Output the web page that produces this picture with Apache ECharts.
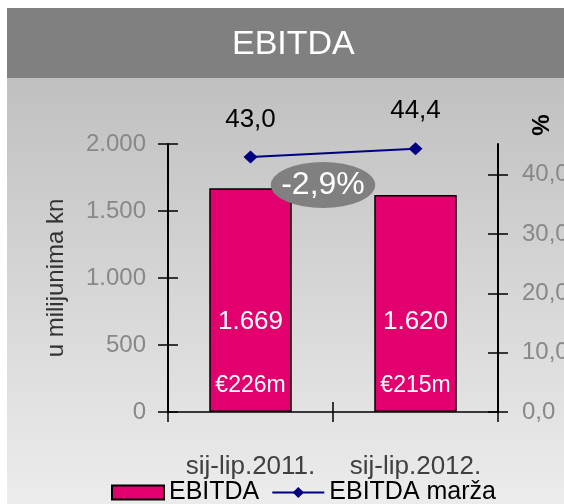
<!DOCTYPE html>
<html>
<head>
<meta charset="utf-8">
<script src="https://cdn.jsdelivr.net/npm/echarts@6/dist/echarts.min.js"></script>
<style>
html, body { margin: 0; padding: 0; background: #fff; }
#chart { width: 564px; height: 504px; }
</style>
</head>
<body>
<div id="chart"></div>
<script>
// podaci
var categories = ['sij-lip.2011.', 'sij-lip.2012.'];
var ebitda = [1669, 1620];          // u milijunima kn
var ebitdaEur = [226, 215];         // € milijuna
var marza = [43.0, 44.4];           // %
var leftTicks = [0, 500, 1000, 1500, 2000];
var rightTicks = [0, 10, 20, 30, 40];

var FONT = 'Liberation Sans';

function fmtThousands(v) {
    return String(v).replace(/\B(?=(\d{3})+(?!\d))/g, '.');
}
function fmtDec(v) {
    return v.toFixed(1).replace('.', ',');
}

// promjena EBITDA
var change = (ebitda[1] - ebitda[0]) / ebitda[0] * 100;

var tickStyle = { color: '#000', width: 1.5 };

var myChart = echarts.init(document.getElementById('chart'));
var option = {
    animation: false,
    textStyle: { fontFamily: FONT },
    title: {
        text: 'EBITDA',
        left: 232,
        top: 28,
        padding: 0,
        textStyle: { color: '#fff', fontSize: 34, fontWeight: 'normal', fontFamily: FONT }
    },
    graphic: [
        { type: 'rect', z: -100, shape: { x: 7, y: 8, width: 557, height: 70 }, style: { fill: '#808080' } },
        {
            type: 'rect', z: -100, shape: { x: 7, y: 78, width: 557, height: 426 },
            style: {
                fill: new echarts.graphic.LinearGradient(0, 0, 0, 1, [
                    { offset: 0, color: '#c0c0c0' },
                    { offset: 1, color: '#ececec' }
                ])
            }
        },
        {
            type: 'text', x: 542, y: 125, rotation: Math.PI / 2, z: 100,
            style: {
                text: '%', fill: '#000', fontSize: 24, fontWeight: 'bold', fontFamily: FONT,
                textAlign: 'center', textVerticalAlign: 'middle', align: 'center', verticalAlign: 'middle'
            }
        },
        {
            type: 'circle', x: 323, y: 185, scaleX: 2.27, z: 100,
            shape: { cx: 0, cy: 0, r: 23 },
            style: { fill: '#808080' }
        },
        {
            type: 'text', x: 323, y: 185, z: 101,
            style: {
                text: fmtDec(change) + '%', fill: '#fff', fontSize: 32, fontFamily: FONT,
                textAlign: 'center', textVerticalAlign: 'middle', align: 'center', verticalAlign: 'middle'
            }
        }
    ],
    legend: {
        left: 106,
        top: 475,
        itemWidth: 52,
        itemHeight: 14,
        itemGap: 12,
        textStyle: { color: '#000', fontSize: 25, fontFamily: FONT },
        data: [{ name: 'EBITDA', icon: 'rect' }, { name: 'EBITDA marža' }]
    },
    grid: { left: 168, right: 66, top: 144, bottom: 92, outerBoundsMode: 'none' },
    xAxis: [
        {
            type: 'category',
            data: categories,
            position: 'bottom',
            axisLine: { show: true, lineStyle: tickStyle },
            axisTick: { show: true, length: 10, lineStyle: tickStyle },
            axisLabel: { color: '#404040', fontSize: 26, margin: 42, interval: 0 }
        },
        {
            type: 'category',
            data: categories,
            position: 'bottom',
            axisLine: { show: false },
            axisTick: { show: true, inside: true, length: 10, lineStyle: tickStyle },
            axisLabel: { show: false }
        }
    ],
    yAxis: [
        {
            type: 'value', position: 'left',
            min: 0, max: 2000, interval: 500,
            splitLine: { show: false },
            axisLine: { show: true, lineStyle: { color: '#000', width: 2 } },
            axisTick: { show: true, length: 10, lineStyle: tickStyle },
            axisLabel: { color: '#888', fontSize: 24, margin: 22, formatter: fmtThousands },
            name: 'u milijunima kn',
            nameLocation: 'middle',
            nameGap: 100,
            nameTextStyle: { color: '#333', fontSize: 24 }
        },
        {
            type: 'value', position: 'right',
            min: 0, max: 45.2,
            splitLine: { show: false },
            axisLine: { show: true, lineStyle: { color: '#000', width: 2 } },
            axisTick: { show: true, length: 10, lineStyle: tickStyle, customValues: rightTicks },
            axisLabel: { color: '#888', fontSize: 24, margin: 24, customValues: rightTicks, formatter: fmtDec }
        },
        {
            type: 'value', position: 'left',
            min: 0, max: 2000,
            splitLine: { show: false },
            axisLine: { show: false },
            axisTick: { show: true, inside: true, length: 10, lineStyle: tickStyle, customValues: leftTicks },
            axisLabel: { show: false, customValues: leftTicks }
        },
        {
            type: 'value', position: 'right',
            min: 0, max: 45.2,
            splitLine: { show: false },
            axisLine: { show: false },
            axisTick: { show: true, inside: true, length: 10, lineStyle: tickStyle, customValues: rightTicks },
            axisLabel: { show: false, customValues: rightTicks }
        }
    ],
    series: [
        {
            name: 'EBITDA',
            type: 'bar',
            data: ebitda,
            barWidth: '50%',
            itemStyle: { color: '#e2006f', borderColor: '#000', borderWidth: 1.5 },
            label: {
                show: true,
                position: 'insideBottom',
                distance: 14,
                formatter: function (p) {
                    return '{a|' + fmtThousands(p.value) + '}\n{b|€' + ebitdaEur[p.dataIndex] + 'm}';
                },
                rich: {
                    a: { color: '#fff', fontSize: 26, lineHeight: 104, fontFamily: FONT },
                    b: { color: '#fff', fontSize: 23, lineHeight: 24, fontFamily: FONT }
                }
            }
        },
        {
            name: 'EBITDA marža',
            type: 'line',
            yAxisIndex: 1,
            data: marza,
            symbol: 'diamond',
            symbolSize: [14, 13],
            lineStyle: { color: '#000080', width: 2 },
            itemStyle: { color: '#000080' },
            label: {
                show: true,
                position: 'top',
                distance: 18,
                color: '#000',
                fontSize: 26,
                formatter: function (p) { return fmtDec(p.value); }
            }
        }
    ]
};
myChart.setOption(option);
</script>
</body>
</html>
